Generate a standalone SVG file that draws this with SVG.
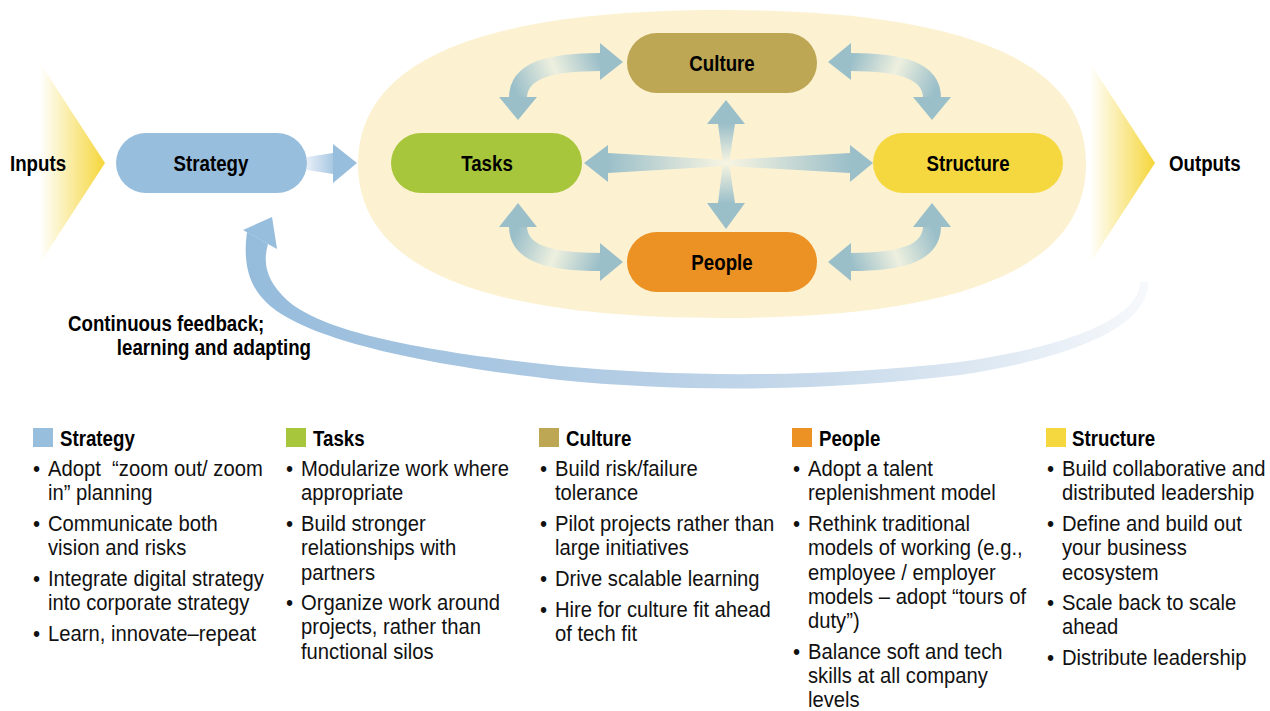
<svg xmlns="http://www.w3.org/2000/svg" width="1270" height="711" viewBox="0 0 1270 711">
<defs>
<style>
.b{font-family:"Liberation Sans",Arial,sans-serif;font-weight:bold;font-size:22px;fill:#000}
.r{font-family:"Liberation Sans",Arial,sans-serif;font-size:22px;fill:#111}
.ar{fill:#9bbfc9}
.fb{fill:#98bedd}
</style>
<linearGradient id="gChev" x1="0" y1="0" x2="1" y2="0"><stop offset="0" stop-color="#ffffff"/><stop offset="1" stop-color="#f5d63a"/></linearGradient>
<linearGradient id="gStr" gradientUnits="userSpaceOnUse" x1="307" y1="0" x2="340" y2="0"><stop offset="0" stop-color="#e6eef7"/><stop offset="1" stop-color="#98bedd"/></linearGradient>
<linearGradient id="gL" gradientUnits="userSpaceOnUse" x1="726" y1="0" x2="608" y2="0"><stop offset="0" stop-color="#f8f5e2"/><stop offset="1" stop-color="#9bbfc9"/></linearGradient>
<linearGradient id="gR" gradientUnits="userSpaceOnUse" x1="726" y1="0" x2="850" y2="0"><stop offset="0" stop-color="#f8f5e2"/><stop offset="1" stop-color="#9bbfc9"/></linearGradient>
<linearGradient id="gU" gradientUnits="userSpaceOnUse" x1="0" y1="163" x2="0" y2="124"><stop offset="0" stop-color="#f8f5e2"/><stop offset="1" stop-color="#9bbfc9"/></linearGradient>
<linearGradient id="gD" gradientUnits="userSpaceOnUse" x1="0" y1="163" x2="0" y2="203"><stop offset="0" stop-color="#f8f5e2"/><stop offset="1" stop-color="#9bbfc9"/></linearGradient>
<linearGradient id="gTC" gradientUnits="userSpaceOnUse" x1="518" y1="97" x2="600" y2="62"><stop offset="0" stop-color="#9bbfc9"/><stop offset="0.5" stop-color="#eef0df"/><stop offset="1" stop-color="#9bbfc9"/></linearGradient>
<linearGradient id="gCS" gradientUnits="userSpaceOnUse" x1="932" y1="97" x2="851" y2="62"><stop offset="0" stop-color="#9bbfc9"/><stop offset="0.5" stop-color="#eef0df"/><stop offset="1" stop-color="#9bbfc9"/></linearGradient>
<linearGradient id="gTP" gradientUnits="userSpaceOnUse" x1="518" y1="227" x2="600" y2="262"><stop offset="0" stop-color="#9bbfc9"/><stop offset="0.5" stop-color="#eef0df"/><stop offset="1" stop-color="#9bbfc9"/></linearGradient>
<linearGradient id="gSP" gradientUnits="userSpaceOnUse" x1="932" y1="227" x2="851" y2="262"><stop offset="0" stop-color="#9bbfc9"/><stop offset="0.5" stop-color="#eef0df"/><stop offset="1" stop-color="#9bbfc9"/></linearGradient>
<linearGradient id="gFB" gradientUnits="userSpaceOnUse" x1="250" y1="0" x2="1150" y2="0"><stop offset="0" stop-color="#96bcdc"/><stop offset="0.4" stop-color="#b2cce4"/><stop offset="0.62" stop-color="#c6d9ea"/><stop offset="0.85" stop-color="#e2ebf4"/><stop offset="1" stop-color="#f7f9fc"/></linearGradient>
</defs>

<g id="inputs">
<polygon points="40,63 105,163 40,263" fill="url(#gChev)"/>
<text class="b" transform="translate(10,171) scale(0.85,1)">Inputs</text>
</g>
<g id="outputs">
<polygon points="1090,63 1155,163 1090,263" fill="url(#gChev)"/>
<text class="b" transform="translate(1169,171) scale(0.85,1)">Outputs</text>
</g>

<g id="system">
<path d="M358,164 C358,65 470,10 722,10 C974,10 1086,65 1086,164 C1086,263 974,318 722,318 C470,318 358,263 358,164 Z" fill="#fcf2d2"/>
</g>

<g id="connectors">
<polygon points="307,157 333,153 333,174 307,170" fill="url(#gStr)"/>
<polygon points="333,144 357,163 333,183" class="fb"/>
<polygon points="726,160 608,153 608,173 726,166" fill="url(#gL)"/>
<polygon points="608,145 584,163 608,182" class="ar"/>
<polygon points="726,160 850,153 850,173 726,166" fill="url(#gR)"/>
<polygon points="850,145 873,163 850,182" class="ar"/>
<polygon points="723,163 718,124 735,124 729,163" fill="url(#gU)"/>
<polygon points="707,124 726,100 745,124" class="ar"/>
<polygon points="723,163 718,203 735,203 729,163" fill="url(#gD)"/>
<polygon points="707,203 726,229 745,203" class="ar"/>
<path d="M518,98 C518,70 550,62 601,62" fill="none" stroke="url(#gTC)" stroke-width="18"/>
<polygon points="499,97 518,120 537,97" class="ar"/>
<polygon points="600,43 623,62 600,80" class="ar"/>
<path d="M932,98 C932,70 900,62 850,62" fill="none" stroke="url(#gCS)" stroke-width="18"/>
<polygon points="913,97 932,120 951,97" class="ar"/>
<polygon points="851,43 828,62 851,80" class="ar"/>
<path d="M518,226 C518,254 550,262 601,262" fill="none" stroke="url(#gTP)" stroke-width="18"/>
<polygon points="499,227 518,203 537,227" class="ar"/>
<polygon points="600,243 623,262 600,281" class="ar"/>
<path d="M932,226 C932,254 900,262 850,262" fill="none" stroke="url(#gSP)" stroke-width="18"/>
<polygon points="913,227 932,203 951,227" class="ar"/>
<polygon points="851,243 828,262 851,281" class="ar"/>
<path d="M247,232 C243,262 248,285 267,303 C300,335 400,362 560,380 C680,392 820,392 960,375 C1060,360 1150,330 1148,282 L1140,282 C1140,320 1060,348 960,362 C820,378 680,377 560,366 C410,350 320,330 287,300 C268,282 262,265 268,244 Z" fill="url(#gFB)"/>
<polygon points="243,230 272,217 277,249" class="fb"/>
</g>

<g id="strategy"><rect x="116" y="133" width="191" height="60" rx="30" fill="#98bedd"/><text class="b" text-anchor="middle" transform="translate(211,171) scale(0.85,1)">Strategy</text></g>
<g id="culture"><rect x="627" y="33" width="190" height="60" rx="30" fill="#bda654"/><text class="b" text-anchor="middle" transform="translate(722,71) scale(0.85,1)">Culture</text></g>
<g id="tasks"><rect x="391" y="133" width="191" height="60" rx="30" fill="#a8c63b"/><text class="b" text-anchor="middle" transform="translate(487,171) scale(0.85,1)">Tasks</text></g>
<g id="structure"><rect x="873" y="133" width="190" height="60" rx="30" fill="#f5d840"/><text class="b" text-anchor="middle" transform="translate(968,171) scale(0.85,1)">Structure</text></g>
<g id="people"><rect x="627" y="232" width="190" height="60" rx="30" fill="#ec9124"/><text class="b" text-anchor="middle" transform="translate(722,270) scale(0.85,1)">People</text></g>

<g id="feedback-label">
<text class="b" transform="translate(68,331) scale(0.85,1)">Continuous feedback;</text>
<text class="b" text-anchor="end" transform="translate(311,355) scale(0.85,1)">learning and adapting</text>
</g>

<g id="legend-strategy">
<rect x="33" y="428" width="20" height="19" fill="#98bedd"/>
<text class="b" transform="translate(60,446) scale(0.85,1)">Strategy</text>
<g transform="translate(48,0) scale(0.92,1)" class="r">
<text x="-16.3" y="476">•</text><text x="0" y="476">Adopt&#160; “zoom out/ zoom</text><text x="0" y="500">in” planning</text>
<text x="-16.3" y="531">•</text><text x="0" y="531">Communicate both</text><text x="0" y="555">vision and risks</text>
<text x="-16.3" y="586">•</text><text x="0" y="586">Integrate digital strategy</text><text x="0" y="610">into corporate strategy</text>
<text x="-16.3" y="641">•</text><text x="0" y="641">Learn, innovate–repeat</text>
</g>
</g>
<g id="legend-tasks">
<rect x="286" y="428" width="20" height="19" fill="#a8c63b"/>
<text class="b" transform="translate(313,446) scale(0.85,1)">Tasks</text>
<g transform="translate(301,0) scale(0.92,1)" class="r">
<text x="-16.3" y="476">•</text><text x="0" y="476">Modularize work where</text><text x="0" y="500">appropriate</text>
<text x="-16.3" y="531">•</text><text x="0" y="531">Build stronger</text><text x="0" y="555">relationships with</text><text x="0" y="580">partners</text>
<text x="-16.3" y="610">•</text><text x="0" y="610">Organize work around</text><text x="0" y="634">projects, rather than</text><text x="0" y="659">functional silos</text>
</g>
</g>
<g id="legend-culture">
<rect x="539" y="428" width="20" height="19" fill="#bda654"/>
<text class="b" transform="translate(566,446) scale(0.85,1)">Culture</text>
<g transform="translate(555,0) scale(0.92,1)" class="r">
<text x="-16.3" y="476">•</text><text x="0" y="476">Build risk/failure</text><text x="0" y="500">tolerance</text>
<text x="-16.3" y="531">•</text><text x="0" y="531">Pilot projects rather than</text><text x="0" y="555">large initiatives</text>
<text x="-16.3" y="586">•</text><text x="0" y="586">Drive scalable learning</text>
<text x="-16.3" y="617">•</text><text x="0" y="617">Hire for culture fit ahead</text><text x="0" y="641">of tech fit</text>
</g>
</g>
<g id="legend-people">
<rect x="792" y="428" width="20" height="19" fill="#ec9124"/>
<text class="b" transform="translate(819,446) scale(0.85,1)">People</text>
<g transform="translate(808,0) scale(0.92,1)" class="r">
<text x="-16.3" y="476">•</text><text x="0" y="476">Adopt a talent</text><text x="0" y="500">replenishment model</text>
<text x="-16.3" y="531">•</text><text x="0" y="531">Rethink traditional</text><text x="0" y="555">models of working (e.g.,</text><text x="0" y="580">employee / employer</text><text x="0" y="604">models – adopt “tours of</text><text x="0" y="628">duty”)</text>
<text x="-16.3" y="659">•</text><text x="0" y="659">Balance soft and tech</text><text x="0" y="683">skills at all company</text><text x="0" y="707">levels</text>
</g>
</g>
<g id="legend-structure">
<rect x="1046" y="428" width="20" height="19" fill="#f5d840"/>
<text class="b" transform="translate(1072,446) scale(0.85,1)">Structure</text>
<g transform="translate(1062,0) scale(0.92,1)" class="r">
<text x="-16.3" y="476">•</text><text x="0" y="476">Build collaborative and</text><text x="0" y="500">distributed leadership</text>
<text x="-16.3" y="531">•</text><text x="0" y="531">Define and build out</text><text x="0" y="555">your business</text><text x="0" y="580">ecosystem</text>
<text x="-16.3" y="610">•</text><text x="0" y="610">Scale back to scale</text><text x="0" y="634">ahead</text>
<text x="-16.3" y="665">•</text><text x="0" y="665">Distribute leadership</text>
</g>
</g>
</svg>
